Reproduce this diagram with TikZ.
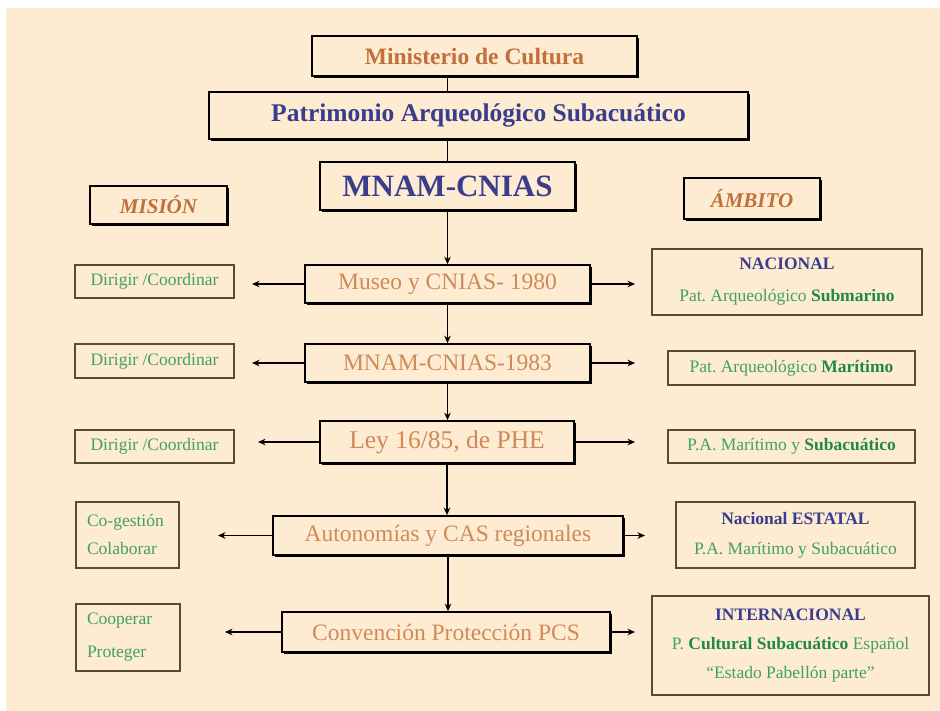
\documentclass[tikz,border=0pt]{standalone}
\usepackage{fontspec}
\setmainfont{Liberation Serif}
\frenchspacing
\usetikzlibrary{arrows.meta,shadows}
\definecolor{bg}{HTML}{FDEBD2}
\definecolor{orng}{HTML}{C0703A}
\definecolor{lorng}{HTML}{D08A58}
\definecolor{blu}{HTML}{3A3C8E}
\definecolor{grn}{HTML}{3FA262}
\definecolor{dgrn}{HTML}{1E8A45}
\definecolor{bord}{HTML}{5A4A3A}
\tikzset{
  x=1pt,y=-1pt,
  mainbox/.style={draw=black, line width=1.6pt, fill=bg, inner sep=0pt,
    drop shadow={shadow xshift=2.2pt, shadow yshift=-2.2pt, fill=black, opacity=1}},
  sidebox/.style={draw=bord, line width=1.3pt, fill=bg, inner sep=0pt},
  conn/.style={line width=1.7pt, black},
  arr/.style={conn, -{Stealth[length=7.5pt,width=6.5pt]}},
  maintxt/.style={font=\fontsize{23.5}{28}\selectfont, text=lorng},
  sidetxt/.style={font=\fontsize{17.5}{30}\selectfont, text=grn},
}
\begin{document}
\begin{tikzpicture}
\fill[white] (0,0) rectangle (940,711);
\fill[bg] (6,8) rectangle (940,711);
\useasboundingbox (0,0) rectangle (940,711);

% top
\node[mainbox, minimum width=325pt, minimum height=40pt, font=\fontsize{23.5}{28}\selectfont\bfseries, text=orng] (min) at (474.5,56) {Ministerio de Cultura};
\node[mainbox, minimum width=539pt, minimum height=47pt, font=\fontsize{25.5}{30}\selectfont\bfseries, text=blu] (pat) at (478.5,115.5) {Patrimonio Arqueológico Subacuático};
\node[mainbox, minimum width=255pt, minimum height=48pt, font=\fontsize{31}{36}\selectfont\bfseries, text=blu] (mnam) at (447.5,186) {MNAM-CNIAS};
\node[mainbox, minimum width=137pt, minimum height=38pt, font=\fontsize{21}{25}\selectfont\bfseries\itshape, text=orng] (mision) at (158.5,205) {MISIÓN};
\node[mainbox, minimum width=136pt, minimum height=41pt, font=\fontsize{21}{25}\selectfont\bfseries\itshape, text=orng] (ambito) at (752,198.5) {ÁMBITO};

% main column
\node[mainbox, maintxt, minimum width=285pt, minimum height=38pt] (museo) at (447.5,284) {Museo y CNIAS- 1980};
\node[mainbox, maintxt, minimum width=285pt, minimum height=38pt] (mn83) at (447.5,363) {MNAM-CNIAS-1983};
\node[mainbox, maintxt, minimum width=254pt, minimum height=42pt, font=\fontsize{25.5}{30}\selectfont] (ley) at (447,442) {Ley 16/85, de PHE};
\node[mainbox, maintxt, minimum width=350pt, minimum height=39pt] (auto) at (448,535.5) {Autonomías y CAS regionales};
\node[mainbox, maintxt, minimum width=328pt, minimum height=40pt] (conv) at (446,632) {Convención Protección PCS};

% left
\node[sidebox, sidetxt, minimum width=159pt, minimum height=33pt] (d1) at (154.5,281.5) {Dirigir /Coordinar};
\node[sidebox, sidetxt, minimum width=159pt, minimum height=34pt] (d2) at (154.5,361) {Dirigir /Coordinar};
\node[sidebox, sidetxt, minimum width=159pt, minimum height=33pt] (d3) at (154.5,446.5) {Dirigir /Coordinar};
\node[sidebox, sidetxt, minimum width=103pt, minimum height=66pt, text width=81pt, align=left, font=\fontsize{17.5}{28}\selectfont] (cog) at (127.5,535) {Co-gestión\\Colaborar};
\node[sidebox, sidetxt, minimum width=104pt, minimum height=67pt, text width=82pt, align=left, font=\fontsize{17.5}{33}\selectfont] (coop) at (128,637.5) {Cooperar\\Proteger};

% right
\node[sidebox, sidetxt, minimum width=270pt, minimum height=66pt, align=center, font=\fontsize{17.5}{32}\selectfont] (nac) at (787,282) {\textcolor{blu}{\bfseries NACIONAL}\\Pat. Arqueológico \textcolor{dgrn}{\bfseries Submarino}};
\node[sidebox, sidetxt, minimum width=247pt, minimum height=34pt] (mar) at (791.5,368) {Pat. Arqueológico \textcolor{dgrn}{\bfseries Marítimo}};
\node[sidebox, sidetxt, minimum width=247pt, minimum height=33pt] (pams) at (791.5,446.5) {P.A. Marítimo y \textcolor{dgrn}{\bfseries Subacuático}};
\node[sidebox, sidetxt, minimum width=239pt, minimum height=66pt, align=center] (est) at (795.5,535) {\textcolor{blu}{\bfseries Nacional ESTATAL}\\P.A. Marítimo y Subacuático};
\node[sidebox, sidetxt, minimum width=277pt, minimum height=99pt, align=center, font=\fontsize{17.5}{29}\selectfont] (intl) at (790.5,645.5) {\textcolor{blu}{\bfseries INTERNACIONAL}\\P. \textcolor{dgrn}{\bfseries Cultural Subacuático} Español\\``Estado Pabellón parte''};

% arrow end points
\coordinate (l1) at (252,0); \coordinate (r1) at (635,0);
\coordinate (l2) at (252,0); \coordinate (r2) at (635,0);
\coordinate (l3) at (258,0); \coordinate (r3) at (635,0);
\coordinate (l4) at (218,0); \coordinate (r4) at (645,0);
\coordinate (l5) at (225,0); \coordinate (r5) at (635,0);

% vertical
\draw[conn] (min.south -| mnam) -- (pat.north -| mnam);
\draw[conn] (pat.south -| mnam) -- (mnam.north);
\draw[arr] (mnam.south) -- (museo.north);
\draw[arr] (museo.south) -- (museo.south |- mn83.north);
\draw[arr] (mn83.south) -- (mn83.south |- ley.north);
\draw[arr] (ley.south) -- (ley.south |- auto.north);
\draw[arr] (auto.south) -- (auto.south |- conv.north);

% horizontal
\draw[arr] (museo.west) -- (museo.west -| l1);
\draw[arr] (museo.east) -- (museo.east -| r1);
\draw[arr] (mn83.west) -- (mn83.west -| l2);
\draw[arr] (mn83.east) -- (mn83.east -| r2);
\draw[arr] (ley.west) -- (ley.west -| l3);
\draw[arr] (ley.east) -- (ley.east -| r3);
\draw[arr] (auto.west) -- (auto.west -| l4);
\draw[arr] (auto.east) -- (auto.east -| r4);
\draw[arr] (conv.west) -- (conv.west -| l5);
\draw[arr] (conv.east) -- (conv.east -| r5);
\end{tikzpicture}
\end{document}
